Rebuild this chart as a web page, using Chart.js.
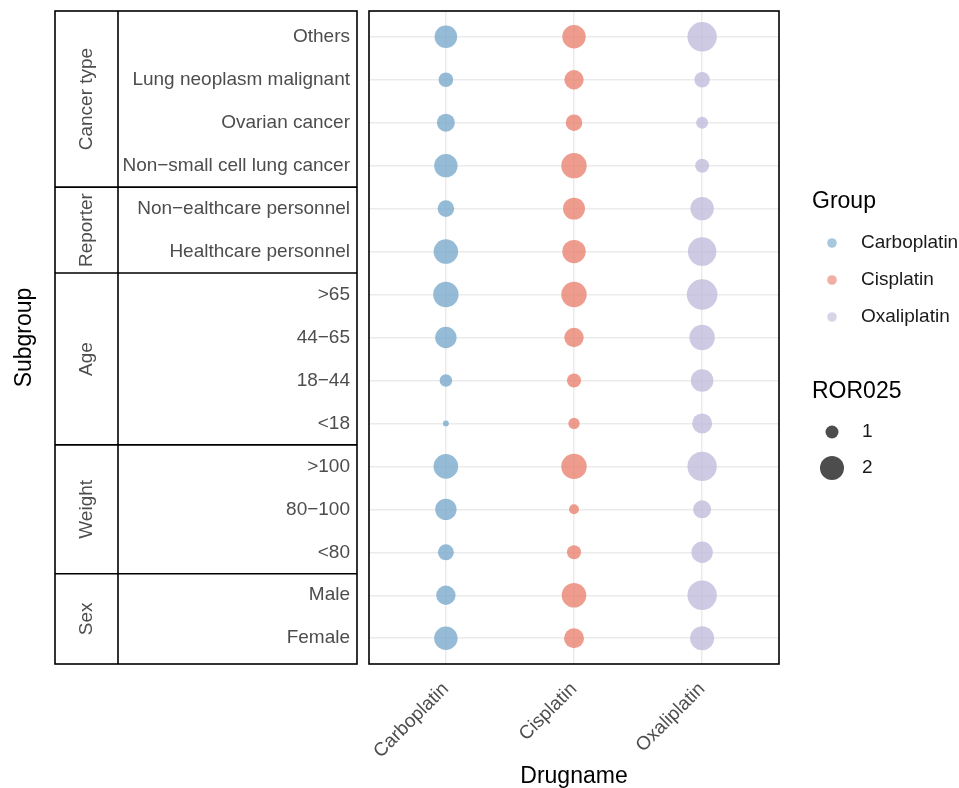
<!DOCTYPE html>
<html>
<head>
<meta charset="utf-8">
<script src="https://cdn.jsdelivr.net/npm/chart.js@4.4.1/dist/chart.umd.min.js"></script>
<style>
  html, body { margin: 0; padding: 0; background: #fff; }
</style>
</head>
<body>
<canvas id="bubbles" width="959" height="788"></canvas>
<script>
const drugs = ['Carboplatin', 'Cisplatin', 'Oxaliplatin'];
const subgroups = ['Others', 'Lung neoplasm malignant', 'Ovarian cancer', 'Non\u2212small cell lung cancer',
    'Non\u2212ealthcare personnel', 'Healthcare personnel',
    '>65', '44\u221265', '18\u221244', '<18',
    '>100', '80\u2212100', '<80',
    'Male', 'Female'];
const groupNames = ['Cancer type', 'Reporter', 'Age', 'Weight', 'Sex'];
const groupSizes = [4, 2, 4, 3, 2];

// ROR025 per subgroup, same order as subgroups
const carboplatin = [1.84, 1.11, 1.38, 1.93, 1.26, 2.07, 2.17, 1.71, 0.97, 0.67, 2.07, 1.71, 1.21, 1.51, 1.93];
const cisplatin   = [1.93, 1.51, 1.26, 2.17, 1.77, 1.93, 2.17, 1.51, 1.07, 0.90, 2.17, 0.83, 1.07, 2.07, 1.57];
const oxaliplatin = [2.71, 1.17, 0.94, 1.07, 1.93, 2.59, 2.89, 2.17, 1.84, 1.57, 2.71, 1.38, 1.71, 2.71, 2.00];
const sizeBreaks = [1, 2];

const ror = [carboplatin, cisplatin, oxaliplatin];
const colors = ['rgba(123,170,204,0.8)', 'rgba(234,131,114,0.8)', 'rgba(194,189,220,0.8)'];
const legendColors = ['rgba(123,170,204,0.65)', 'rgba(234,131,114,0.65)', 'rgba(194,189,220,0.65)'];
const FONT = '"Liberation Sans", Arial, sans-serif';

// area-scaled size like ggplot scale_size
function rSize(v) {
    return Math.sqrt(Math.max(101.75 * v - 59.5, 1));
}

const tablePlugin = {
    id: 'tablePlugin',
    afterDraw(chart) {
        const ctx = chart.ctx;
        const area = chart.chartArea;
        const ys = chart.scales.y;
        const left = 55, mid = 118, right = 357;
        ctx.save();
        ctx.strokeStyle = '#000';
        ctx.lineWidth = 1.6;
        // panel border
        ctx.strokeRect(area.left, area.top, area.right - area.left, area.bottom - area.top);
        // table
        ctx.strokeRect(left, area.top, right - left, area.bottom - area.top);
        ctx.beginPath();
        ctx.moveTo(mid, area.top);
        ctx.lineTo(mid, area.bottom);
        let start = 0;
        let bounds = [area.top];
        groupSizes.forEach((n, i) => {
            start += n;
            bounds.push(i < groupSizes.length - 1 ? ys.getPixelForValue(start - 0.5) : area.bottom);
        });
        bounds.slice(1, -1).forEach(y => {
            ctx.moveTo(left, y);
            ctx.lineTo(right, y);
        });
        ctx.stroke();
        // group labels
        ctx.fillStyle = '#4D4D4D';
        ctx.font = '19px ' + FONT;
        ctx.textAlign = 'center';
        ctx.textBaseline = 'middle';
        groupNames.forEach((g, i) => {
            const cy = (bounds[i] + bounds[i + 1]) / 2;
            ctx.save();
            ctx.translate((left + mid) / 2, cy);
            ctx.rotate(-Math.PI / 2);
            ctx.fillText(g, 0, 0);
            ctx.restore();
        });
        // legends
        ctx.textAlign = 'left';
        ctx.fillStyle = '#000';
        ctx.font = '23px ' + FONT;
        ctx.fillText('Group', 812, 202);
        const itemY = [243, 280, 317];
        ctx.font = '19px ' + FONT;
        drugs.forEach((d, i) => {
            ctx.fillStyle = legendColors[i];
            ctx.beginPath();
            ctx.arc(832, itemY[i], 4.8, 0, Math.PI * 2);
            ctx.fill();
            ctx.fillStyle = '#1A1A1A';
            ctx.fillText(d, 861, itemY[i]);
        });
        ctx.fillStyle = '#000';
        ctx.font = '23px ' + FONT;
        ctx.fillText('ROR025', 812, 392);
        const sizeY = [432, 468];
        ctx.font = '19px ' + FONT;
        sizeBreaks.forEach((b, i) => {
            ctx.fillStyle = '#4D4D4D';
            ctx.beginPath();
            ctx.arc(832, sizeY[i], rSize(b), 0, Math.PI * 2);
            ctx.fill();
            ctx.fillStyle = '#1A1A1A';
            ctx.fillText(String(b), 862, sizeY[i]);
        });
        ctx.restore();
    }
};

new Chart(document.getElementById('bubbles'), {
    type: 'bubble',
    data: {
        datasets: drugs.map((d, i) => ({
            label: d,
            data: subgroups.map((s, j) => ({ x: i, y: j, r: rSize(ror[i][j]) })),
            backgroundColor: colors[i],
            borderWidth: 0,
            hoverBorderWidth: 0
        }))
    },
    options: {
        responsive: false,
        animation: false,
        devicePixelRatio: 1,
        layout: { autoPadding: false, padding: { top: 11, right: 180, bottom: 0, left: 0 } },
        plugins: {
            legend: { display: false },
            tooltip: { enabled: false }
        },
        scales: {
            x: {
                type: 'linear',
                min: -0.6,
                max: 2.6,
                afterBuildTicks: s => { s.ticks = drugs.map((d, i) => ({ value: i })); },
                afterFit: s => { s.height = 124; },
                ticks: {
                    callback: v => drugs[v],
                    autoSkip: false,
                    maxRotation: 45,
                    minRotation: 45,
                    padding: 14,
                    color: '#4D4D4D',
                    font: { family: FONT, size: 19 }
                },
                grid: { color: '#EBEBEB', lineWidth: 1.5, drawTicks: false },
                border: { display: false },
                title: {
                    display: true,
                    text: 'Drugname',
                    color: '#000',
                    font: { family: FONT, size: 23, lineHeight: 1 },
                    padding: { top: 0, bottom: 0 }
                }
            },
            y: {
                type: 'linear',
                reverse: true,
                min: -0.6,
                max: 14.6,
                afterBuildTicks: s => { s.ticks = subgroups.map((g, j) => ({ value: j })); },
                afterFit: s => {
                    s.width = 369;
                    s.paddingTop = 0;
                    s.paddingBottom = 0;
                },
                ticks: {
                    callback: v => subgroups[v],
                    autoSkip: false,
                    padding: 0,
                    color: '#4D4D4D',
                    font: { family: FONT, size: 19, lineHeight: 1 }
                },
                grid: { color: '#EBEBEB', lineWidth: 1.5, drawTicks: true, tickLength: 19, tickColor: 'rgba(0,0,0,0)' },
                border: { display: false },
                title: {
                    display: true,
                    text: 'Subgroup',
                    color: '#000',
                    font: { family: FONT, size: 23 },
                    padding: { top: 11, bottom: 0 }
                }
            }
        }
    },
    plugins: [tablePlugin]
});
</script>
</body>
</html>
